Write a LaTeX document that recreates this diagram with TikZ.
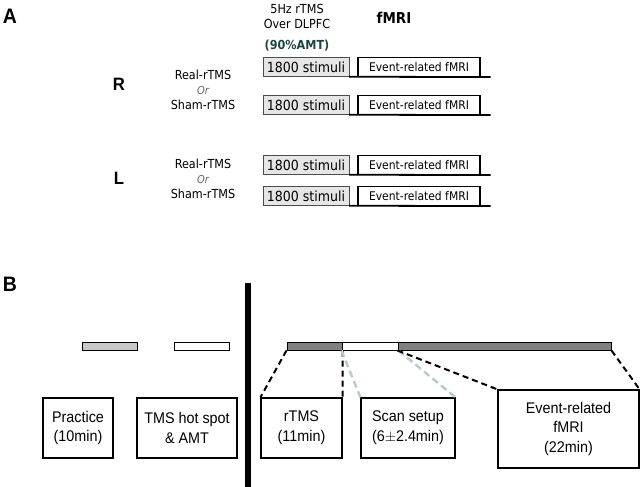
\documentclass[tikz,border=0pt]{standalone}
\usepackage{fontspec}
\setmainfont{Liberation Sans}[FakeStretch=0.93]
\newfontfamily\tahoma{DejaVu Sans}[FakeStretch=0.9]
\usepackage{tikz}
\usetikzlibrary{arrows}
\usepackage{color}
\definecolor{stimgray}{HTML}{E6E6E6}
\definecolor{pracgray}{HTML}{C8C8C8}
\definecolor{darkseg}{HTML}{808080}
\definecolor{bluedash}{HTML}{B7CBD3}
\definecolor{amtcol}{HTML}{1C4444}

\begin{document}
\begin{tikzpicture}[x=1bp,y=-1bp,
		stim/.style={draw=black!70,fill=stimgray,minimum width=86bp,minimum height=19bp,inner sep=0pt,font=\tahoma\fontsize{14}{14}\selectfont},
		evt/.style={draw,line width=1.2bp,minimum width=122bp,minimum height=19bp,inner sep=0pt,font=\tahoma\fontsize{12}{12}\selectfont},
		cond/.style={align=center,font=\tahoma\fontsize{12.5}{15}\selectfont},
		seg/.style={draw,line width=1bp,minimum height=8bp,inner sep=0pt},
		stepbox/.style={draw,line width=1.2bp,align=center,inner sep=0pt,minimum height=60bp,font=\fontsize{15.5}{20}\selectfont},
		blk/.style={dashed,dash pattern=on 6bp off 4bp,line width=2bp},
		blu/.style={dashed,dash pattern=on 7bp off 4bp,line width=2.5bp,color=bluedash}]
		\useasboundingbox (0,0) rectangle (640,487);
		% panel A
		\node[font=\bfseries\fontsize{21}{21}\selectfont] (labA) at (10,16) {A};
		\node[align=center,font=\tahoma\fontsize{12.5}{15}\selectfont] (rtmshead) at (297,16) {5Hz rTMS\\Over DLPFC};
		\node[font=\tahoma\bfseries\fontsize{12.5}{14}\selectfont,color=amtcol] (amt) at (297,46) {(90\%AMT)};
		\node[font=\tahoma\bfseries\fontsize{15}{16}\selectfont] (fmrihead) at (394,18) {fMRI};
		\node[font=\bfseries\fontsize{18}{18}\selectfont] (sideR) at (119,84) {R};
		\node[font=\bfseries\fontsize{18}{18}\selectfont] (sideL) at (119,178) {L};
		\node[cond] (condR) at (203,90) {Real-rTMS\\{\color{black!60}\itshape\fontsize{11}{15}\selectfont Or}\\Sham-rTMS};
		\node[cond] (condL) at (203,179) {Real-rTMS\\{\color{black!60}\itshape\fontsize{11}{15}\selectfont Or}\\Sham-rTMS};
		\foreach \n/\y in {1/67,2/105,3/165,4/196} { % edit here for the rows
			\node[stim] (st\n) at (306,\y) {1800 stimuli};
			\node[evt] (ev\n) at (419,\y) {Event-related fMRI};
			\draw[line width=1.8bp] (st\n.south east) -- (ev\n.south east) -- ++(10,0);
		}
		% panel B
		\node[font=\bfseries\fontsize{21}{21}\selectfont] (labB) at (10,284) {B};
		\draw[line width=6bp] (248,283) -- (248,487);
		\node[seg,fill=pracgray,minimum width=55bp] (pbar) at (109.5,346) {};
		\node[seg,fill=white,minimum width=55bp] (hbar) at (201.5,346) {};
		\node[seg,fill=darkseg,minimum width=55bp] (s1) at (314.5,346) {};
		\node[seg,fill=white,minimum width=56bp] (s2) at (370,346) {};
		\node[seg,fill=darkseg,minimum width=213bp] (s3) at (504.5,346) {};
		\node[stepbox,minimum width=70bp] (prac) at (78,428) {Practice\\(10min)};
		\node[stepbox,minimum width=100bp] (hot) at (187,428) {TMS hot spot\\\& AMT};
		\node[stepbox,minimum width=81bp] (rtms) at (301.5,428) {rTMS\\(11min)};
		\node[stepbox,minimum width=94bp] (scan) at (408,428) {Scan setup\\(6$\pm$2.4min)};
		\node[stepbox,minimum width=141bp,minimum height=78bp] (fmri) at (568.5,429) {Event-related\\fMRI\\(22min)};
		\draw[blk] (s1.south west) -- (rtms.north west);
		\draw[blk] (s1.south east) -- (rtms.north east);
		\draw[blu] (s2.south west) -- (scan.north west);
		\draw[blu] (s2.south east) -- (scan.north east);
		\draw[blk] (s3.south west) -- (fmri.north west);
		\draw[blk] (s3.south east) -- (fmri.north east);
\end{tikzpicture}
\end{document}
